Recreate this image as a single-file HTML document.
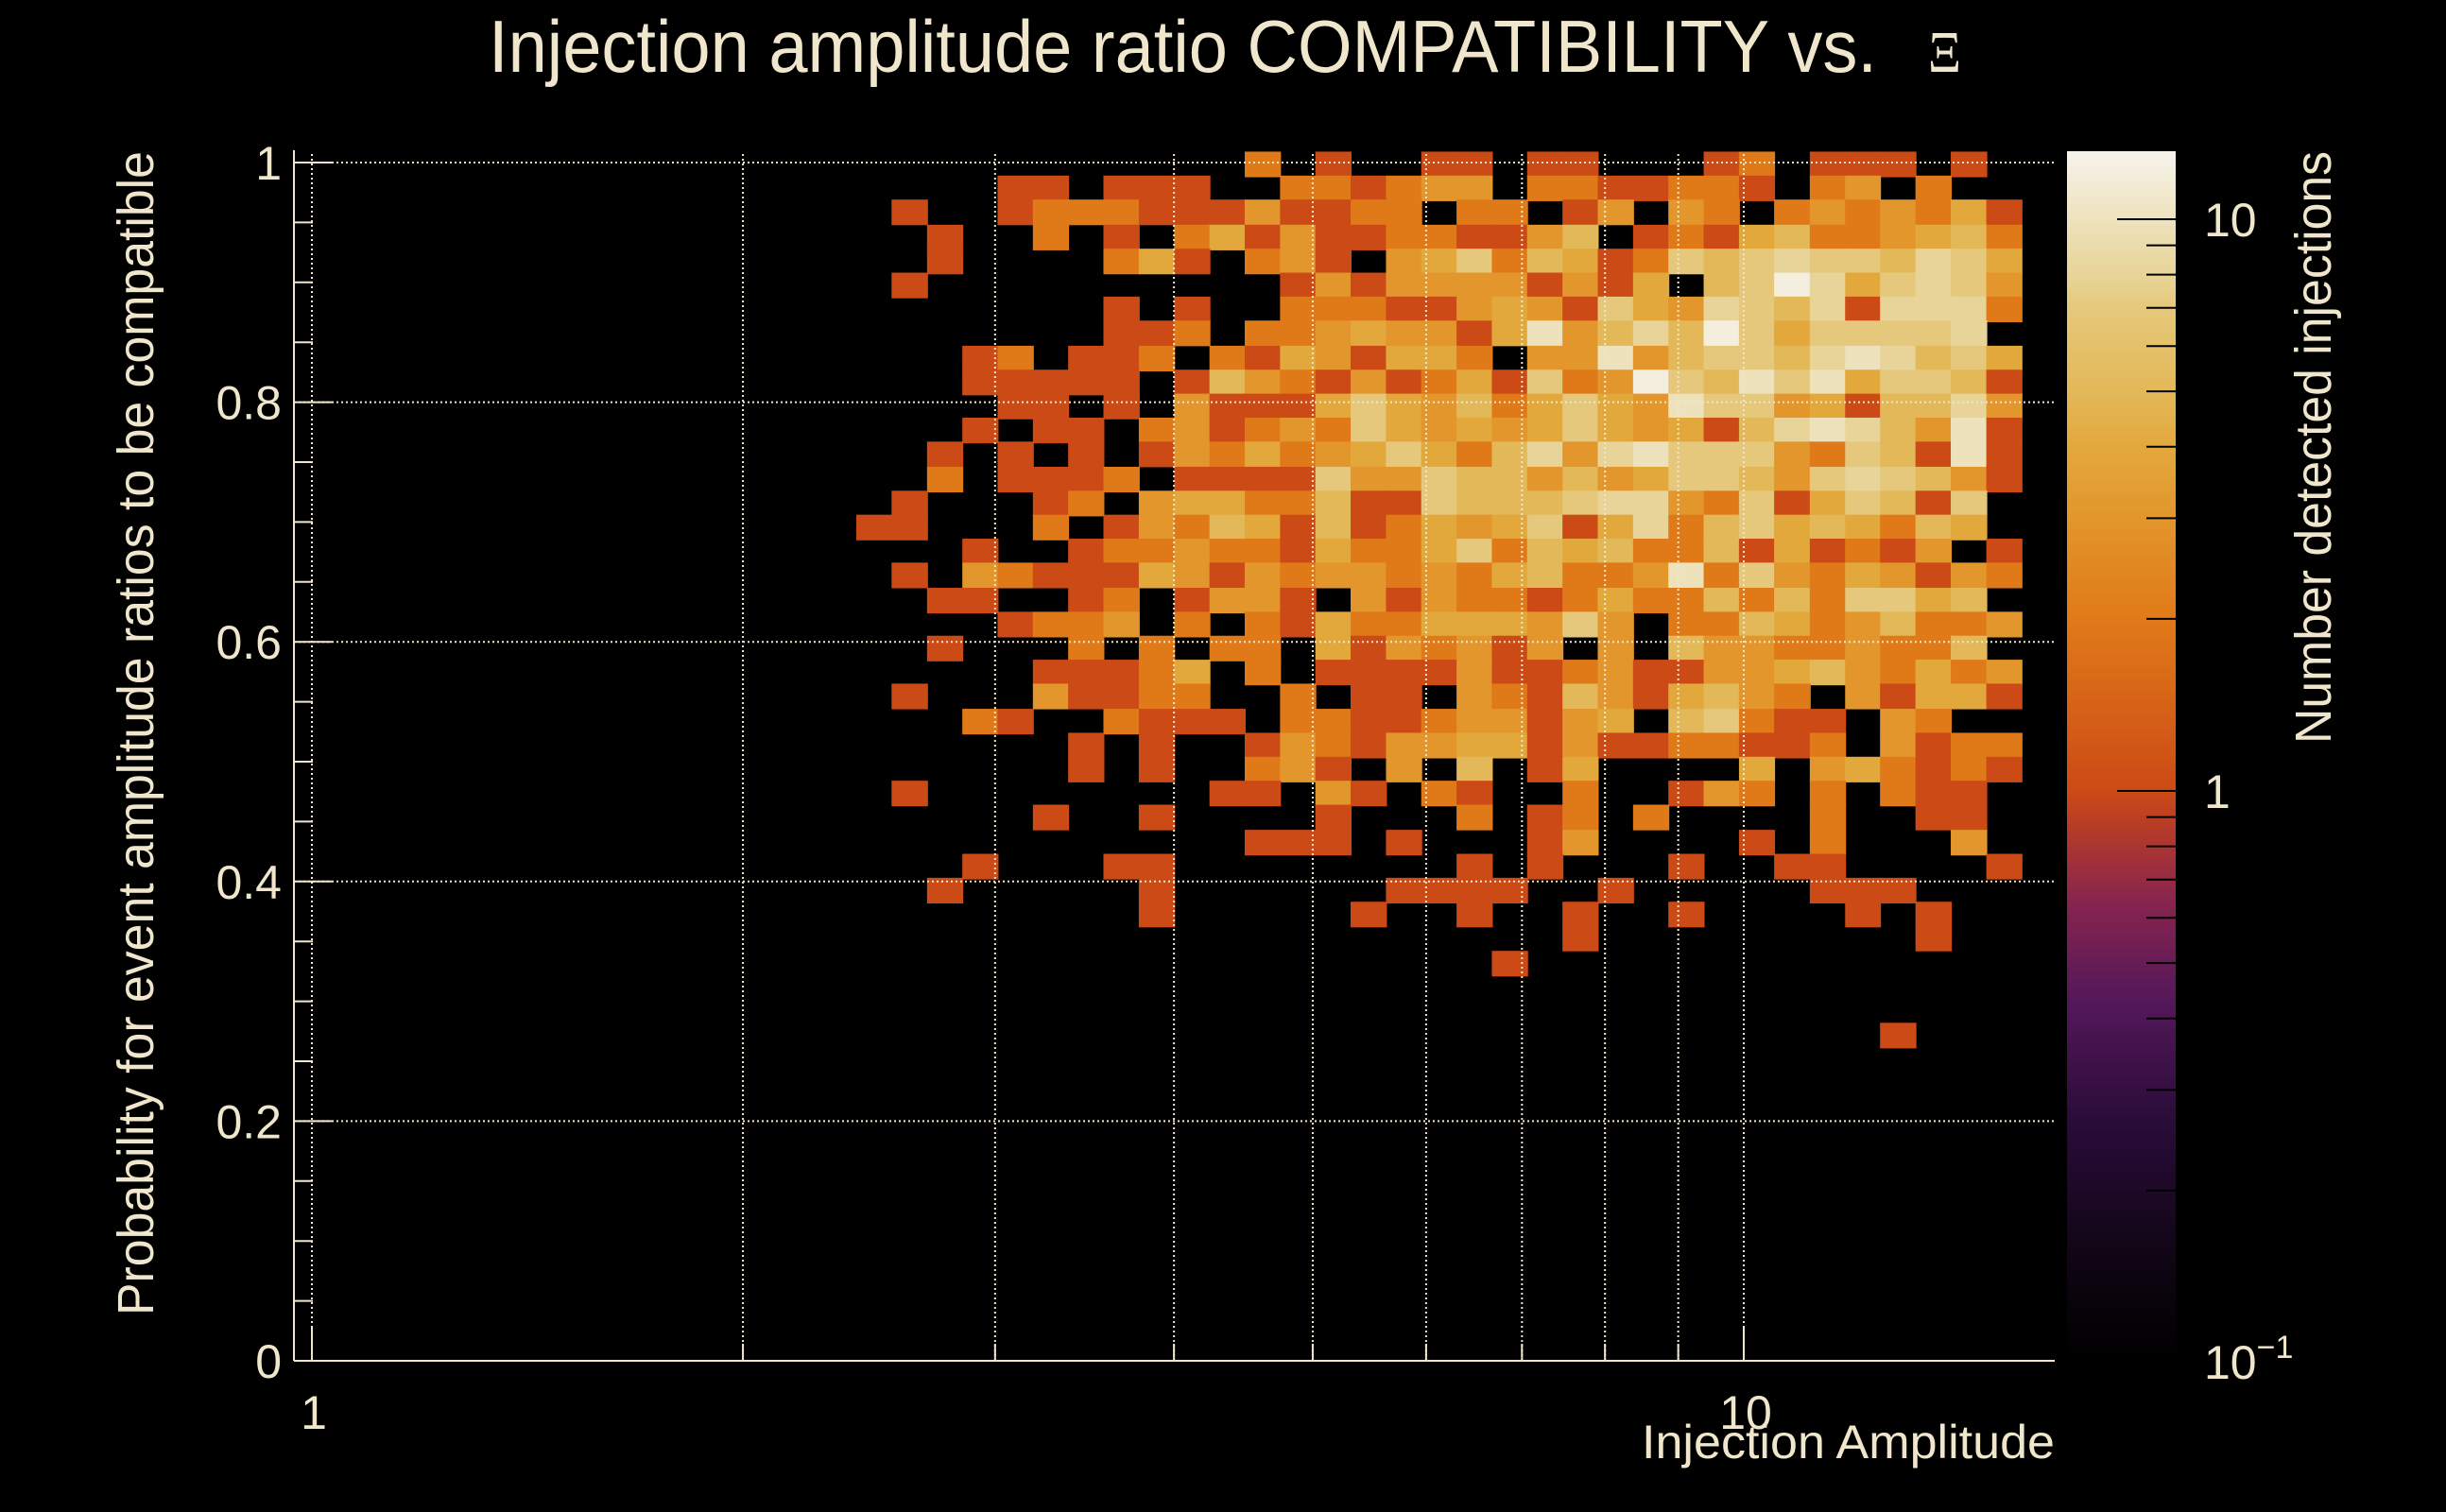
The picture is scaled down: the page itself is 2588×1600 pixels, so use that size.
<!DOCTYPE html>
<html><head><meta charset="utf-8"><style>
html,body{margin:0;padding:0;background:#000;}
svg{display:block;}
text{font-family:"Liberation Sans",sans-serif;fill:#EFE6CC;}
</style></head><body>
<svg id="chart" width="2588" height="1600" viewBox="0 0 2588 1600" xmlns="http://www.w3.org/2000/svg">
<rect x="0" y="0" width="2588" height="1600" fill="#000"/>
<g id="cells"></g>
<g id="grid"></g>
<g id="axes"></g>
<g id="cbar"></g>
<text x="517" y="76" font-size="78" textLength="1469" lengthAdjust="spacingAndGlyphs">Injection amplitude ratio COMPATIBILITY vs.</text>
<text x="2040" y="76" font-size="62" textLength="35" lengthAdjust="spacingAndGlyphs" style="font-family:'Liberation Serif',serif">Ξ</text>
<text transform="translate(162,1392) rotate(-90)" font-size="54" textLength="1232" lengthAdjust="spacingAndGlyphs">Probability for event amplitude ratios to be compatible</text>
<text x="2174" y="1543" font-size="50" text-anchor="end" textLength="437" lengthAdjust="spacingAndGlyphs">Injection Amplitude</text>
<text transform="translate(2466,787) rotate(-90)" font-size="54" textLength="627" lengthAdjust="spacingAndGlyphs">Number detected injections</text>
</svg>
<script>
const xBinEdges = [2.400,2.540,2.689,2.846,3.012,3.188,3.374,3.571,3.780,4.001,4.235,4.482,4.744,5.021,5.314,5.625,5.953,6.301,6.669,7.058,7.471,7.907,8.369,8.858,9.375,9.923,10.50,11.12,11.77,12.45,13.18,13.95,14.77,15.63];
const yBinCenters = [0.999,0.979,0.959,0.938,0.918,0.898,0.878,0.858,0.837,0.817,0.797,0.777,0.757,0.736,0.716,0.696,0.676,0.656,0.635,0.615,0.595,0.575,0.555,0.534,0.514,0.494,0.474,0.454,0.433,0.413,0.393,0.373,0.353,0.332,0.312,0.292,0.272];
const yBinHalf = 0.0101;
const counts = [
[0,0,0,0,0,0,0,0,0,0,0,2,0,1,0,0,1,1,0,1,1,0,0,0,1,2,0,1,1,1,0,1,0],
[0,0,0,0,1,1,0,1,1,1,0,0,2,2,1,2,3,3,0,2,2,1,1,2,2,1,0,2,3,0,2,0,0],
[0,1,0,0,1,2,2,2,1,1,1,3,1,1,2,2,0,2,2,0,1,3,0,3,2,0,2,3,2,3,2,4,1],
[0,0,1,0,0,2,0,1,0,2,4,1,3,1,1,2,2,1,1,3,5,0,1,2,1,4,5,2,2,3,4,5,2],
[0,0,1,0,0,0,0,2,4,1,0,2,3,1,0,3,4,7,2,5,4,1,2,7,5,7,8,7,7,5,8,7,4],
[0,1,0,0,0,0,0,0,0,0,0,0,1,3,1,3,3,3,3,1,3,1,4,0,5,7,12,8,4,7,8,7,3],
[0,0,0,0,0,0,0,1,0,1,0,0,2,2,2,1,1,3,4,3,1,7,4,3,8,7,5,8,1,8,8,8,2],
[0,0,0,0,0,0,0,1,1,2,0,2,2,3,4,3,3,1,4,10,3,5,8,5,12,7,4,7,7,7,7,8,0],
[0,0,0,1,2,0,1,1,2,0,2,1,4,3,1,4,4,2,0,3,3,10,3,5,7,7,5,8,10,8,5,7,4],
[0,0,0,1,1,1,1,1,0,1,5,3,2,1,3,1,2,4,1,7,2,3,12,7,5,10,7,10,4,7,7,5,1],
[0,0,0,0,1,1,0,1,0,3,1,1,1,4,7,4,3,5,2,4,7,4,3,10,7,7,3,4,1,5,5,8,3],
[0,0,0,1,0,1,1,0,2,3,1,2,3,2,7,4,3,4,3,4,7,4,3,4,1,5,8,10,8,5,3,10,1],
[0,0,1,0,1,0,1,0,1,3,2,4,2,3,4,7,4,2,5,8,3,8,10,7,7,7,3,2,7,5,1,10,1],
[0,0,2,0,1,1,1,2,0,1,1,1,1,7,3,3,7,5,5,3,5,3,4,7,7,5,3,7,8,7,5,3,1],
[0,1,0,0,0,1,2,0,3,4,4,2,2,5,1,1,7,5,5,5,7,8,8,3,2,7,1,4,7,5,1,7,0],
[1,1,0,0,0,2,0,1,3,2,5,4,1,5,1,2,4,3,4,7,1,4,8,2,5,7,4,5,4,2,5,4,0],
[0,0,0,1,0,0,1,2,2,3,2,2,1,4,2,2,4,7,2,5,4,5,2,2,5,1,4,1,2,1,3,0,1],
[0,1,0,3,2,1,1,1,4,3,1,3,2,3,3,2,3,2,4,5,2,2,3,10,2,7,3,2,4,3,1,3,2],
[0,0,1,1,0,0,1,2,0,1,3,3,1,0,3,1,3,2,2,1,2,4,2,2,5,2,5,2,7,7,4,5,0],
[0,0,0,0,1,2,2,3,0,2,0,2,1,4,2,2,4,4,4,3,7,3,0,2,2,5,4,2,3,5,2,2,3],
[0,0,1,0,0,0,2,0,2,0,2,2,0,4,1,3,2,3,1,3,0,3,0,5,3,3,2,2,3,2,2,5,0],
[0,0,0,0,0,1,1,1,2,4,0,2,0,1,1,1,1,3,1,1,2,3,1,1,3,3,4,5,3,2,4,2,3],
[0,1,0,0,0,3,1,1,2,2,0,0,2,0,1,1,0,3,2,1,5,3,1,4,5,3,2,0,3,1,4,4,1],
[0,0,0,2,1,0,0,2,1,1,1,0,2,2,1,1,2,3,3,1,3,4,0,5,7,2,1,1,0,3,2,0,0],
[0,0,0,0,0,0,1,0,1,0,0,1,3,2,1,3,3,4,4,1,3,1,1,2,2,1,1,2,0,3,1,2,2],
[0,0,0,0,0,0,1,0,1,0,0,2,3,1,0,3,0,5,0,1,4,0,0,0,0,4,0,3,4,2,1,2,1],
[0,1,0,0,0,0,0,0,0,0,1,1,0,3,1,0,2,1,0,0,2,0,0,1,3,2,0,2,0,2,1,1,0],
[0,0,0,0,0,1,0,0,1,0,0,0,0,1,0,0,0,2,0,1,2,0,2,0,0,0,0,2,0,0,1,1,0],
[0,0,0,0,0,0,0,0,0,0,0,1,1,1,0,1,0,0,0,1,3,0,0,0,0,1,0,2,0,0,0,3,0],
[0,0,0,1,0,0,0,1,1,0,0,0,0,0,0,0,0,1,0,1,0,0,0,1,0,0,1,1,0,0,0,0,1],
[0,0,1,0,0,0,0,0,1,0,0,0,0,0,0,1,1,1,1,0,0,1,0,0,0,0,0,1,1,1,0,0,0],
[0,0,0,0,0,0,0,0,1,0,0,0,0,0,1,0,0,1,0,0,1,0,0,1,0,0,0,0,1,0,1,0,0],
[0,0,0,0,0,0,0,0,0,0,0,0,0,0,0,0,0,0,0,0,1,0,0,0,0,0,0,0,0,0,1,0,0],
[0,0,0,0,0,0,0,0,0,0,0,0,0,0,0,0,0,0,1,0,0,0,0,0,0,0,0,0,0,0,0,0,0],
[0,0,0,0,0,0,0,0,0,0,0,0,0,0,0,0,0,0,0,0,0,0,0,0,0,0,0,0,0,0,0,0,0],
[0,0,0,0,0,0,0,0,0,0,0,0,0,0,0,0,0,0,0,0,0,0,0,0,0,0,0,0,0,0,0,0,0],
[0,0,0,0,0,0,0,0,0,0,0,0,0,0,0,0,0,0,0,0,0,0,0,0,0,0,0,0,0,1,0,0,0]
];
const yTickLabels = ["0","0.2","0.4","0.6","0.8","1"];
const yTickValues = [0,0.2,0.4,0.6,0.8,1];
const xMajorTicks = [1,10];
const xMajorLabels = ["1","10"];
const xMinorTicks = [2,3,4,5,6,7,8,9];
const zMin = 0.1, zMax = 13.1;

const NS = "http://www.w3.org/2000/svg";
function xPix(v){ return 330 + Math.log10(v)*1515; }
function yPix(p){ return 1440 - p*1268; }
function cbY(v){ return 837 - Math.log10(v)*605; }

const colorStops = [[0,[0,0,0]],[0.08,[14,5,18]],[0.2,[42,12,58]],[0.3,[85,24,90]],[0.38,[135,36,79]],[0.44,[180,58,42]],[0.472,[204,74,22]],
 [0.614,[224,122,24]],[0.698,[226,150,44]],[0.756,[227,168,60]],[0.802,[227,184,88]],[0.871,[229,200,122]],[0.898,[232,212,152]],[0.944,[238,226,188]],[1,[246,243,236]]];
function colorFor(v){
  let t = (Math.log10(v) - Math.log10(zMin)) / (Math.log10(zMax) - Math.log10(zMin));
  t = Math.max(0, Math.min(1, t));
  for (let i=1;i<colorStops.length;i++){
    if (t <= colorStops[i][0]){
      const a=colorStops[i-1], b=colorStops[i], f=(t-a[0])/(b[0]-a[0]);
      const c=a[1].map((x,k)=>Math.round(x+(b[1][k]-x)*f));
      return "rgb("+c.join(",")+")";
    }
  }
  return "rgb(246,243,236)";
}
function mk(tag, attrs, parent){
  const el = document.createElementNS(NS, tag);
  for (const k in attrs) el.setAttribute(k, attrs[k]);
  parent.appendChild(el);
  return el;
}

// cells
const cellsG = document.getElementById("cells");
counts.forEach((row, r) => {
  row.forEach((v, c) => {
    if (!v) return;
    const x0 = xPix(xBinEdges[c]), x1 = xPix(xBinEdges[c+1]);
    const yT = yPix(yBinCenters[r] + yBinHalf), yB = yPix(yBinCenters[r] - yBinHalf);
    const el = mk("rect", {x:x0, y:yT, width:x1-x0+1, height:yB-yT+1.5, fill:colorFor(v)}, cellsG);
    
    
  });
});

// grid
const gridG = document.getElementById("grid");
const gridX = xMajorTicks.concat(xMinorTicks);
gridX.forEach(v => {
  const x = xPix(v);
  const el = mk("line", {x1:x, y1:1440, x2:x, y2:160, stroke:"#EFE6CC", "stroke-width":2, "stroke-dasharray":"2 3"}, gridG);
  
  
});
yTickValues.forEach(v => {
  const y = yPix(v);
  const el = mk("line", {x1:311, y1:y, x2:2174, y2:y, stroke:"#EFE6CC", "stroke-width":2, "stroke-dasharray":"2 3"}, gridG);
  
  
});

// axes
const axG = document.getElementById("axes");
let ax = mk("line", {x1:311, y1:1440, x2:2174, y2:1440, stroke:"#EFE6CC", "stroke-width":2}, axG);


ax = mk("line", {x1:311, y1:1440, x2:311, y2:159, stroke:"#EFE6CC", "stroke-width":2}, axG);


for (let i=0;i<=20;i++){
  const p = i*0.05, y = yPix(p), major = (i%4===0);
  const t = mk("line", {x1:311, y1:y, x2:311+(major?40:20), y2:y, stroke:"#EFE6CC", "stroke-width":2}, axG);
  
  
}
yTickValues.forEach((v,i) => {
  const t = mk("text", {x:298, y:yPix(v)+18, "font-size":50, "text-anchor":"end"}, axG);
  t.textContent = yTickLabels[i];
  
  
});
xMajorTicks.forEach((v,i) => {
  const x = xPix(v);
  const t = mk("line", {x1:x, y1:1440, x2:x, y2:1405, stroke:"#EFE6CC", "stroke-width":2}, axG);
  
  
  const l = mk("text", {x:x+2, y:1512, "font-size":50, "text-anchor":"middle"}, axG);
  l.textContent = xMajorLabels[i];
  
  
});
xMinorTicks.forEach(v => {
  const x = xPix(v);
  const t = mk("line", {x1:x, y1:1440, x2:x, y2:1422, stroke:"#EFE6CC", "stroke-width":2}, axG);
  
  
});

// color bar
const cb = document.getElementById("cbar");
const nSlices = 320, cbTop = 160, cbBot = 1438;
for (let i=0;i<nSlices;i++){
  const y0 = cbTop + (cbBot-cbTop)*i/nSlices, y1 = cbTop + (cbBot-cbTop)*(i+1)/nSlices;
  const yc = (y0+y1)/2;
  const v = Math.pow(10, (837 - yc)/605);
  const s = mk("rect", {x:2187, y:y0, width:115, height:y1-y0+0.8, fill:colorFor(v)}, cb);
  
  
}
const cbTicks = [0.2,0.3,0.4,0.5,0.6,0.7,0.8,0.9,1,2,3,4,5,6,7,8,9,10];
cbTicks.forEach(v => {
  const y = cbY(v), major = (v===1||v===10);
  const t = mk("line", {x1:2302-(major?62:31), y1:y, x2:2302, y2:y, stroke:"#000", "stroke-width":2}, cb);
  
  
});
const cbLabels = [["10",10],["1",1]];
cbLabels.forEach(([s,v]) => {
  const t = mk("text", {x:2332, y:cbY(v)+18, "font-size":50}, cb);
  t.textContent = s;
  
  
});
const lb = mk("text", {x:2332, y:1459, "font-size":50}, cb);


lb.textContent = "10";
const sup = document.createElementNS(NS, "tspan");
sup.setAttribute("dy", "-22");
sup.setAttribute("font-size", "34");
sup.textContent = "−1";
lb.appendChild(sup);
</script>
</body></html>
